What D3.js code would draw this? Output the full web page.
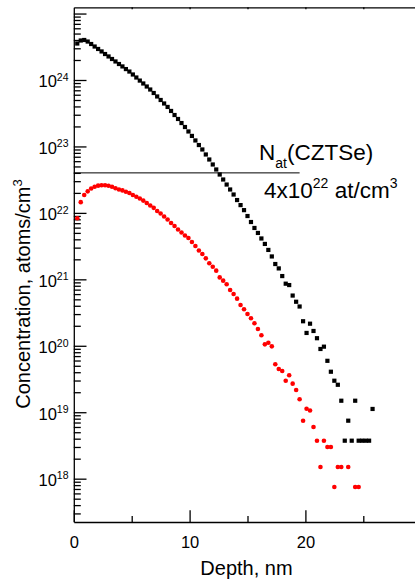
<!DOCTYPE html>
<html><head><meta charset="utf-8">
<script src="https://cdn.jsdelivr.net/npm/d3@7"></script>
<style>
body{margin:0;background:#fff}
svg{display:block}
text{font-family:"Liberation Sans",Arial,Helvetica,sans-serif;fill:#000}
</style>
</head><body>
<script>
// Depth (nm) of each sputter step
const depth = [0.3,0.6,0.9,1.2,1.5,1.8,2.1,2.4,2.7,3.0,3.3,3.6,3.9,4.2,4.5,4.8,5.1,5.4,5.7,6.0,
  6.3,6.6,6.9,7.2,7.5,7.8,8.1,8.4,8.7,9.0,9.3,9.6,9.9,10.2,10.5,10.8,11.1,11.4,11.7,12.0,
  12.3,12.6,12.9,13.2,13.5,13.8,14.1,14.4,14.7,15.0,15.3,15.6,15.9,16.2,16.5,16.8,17.1,17.4,17.7,18.0,
  18.3,18.6,18.9,19.2,19.5,19.8,20.1,20.4,20.7,21.0,21.3,21.6,21.9,22.2,22.5,22.8,23.1,23.4,23.7,24.0,
  24.3,24.6,24.9,25.2,25.5,25.8];

// Black squares (atoms/cm3)
const seriesBlack = [3.54e24,3.93e24,4.0e24,3.79e24,3.48e24,3.19e24,2.93e24,2.69e24,2.46e24,2.26e24,
  2.07e24,1.90e24,1.74e24,1.60e24,1.46e24,1.34e24,1.21e24,1.09e24,9.8e23,8.86e23,
  7.98e23,7.19e23,6.37e23,5.65e23,5.0e23,4.43e23,3.93e23,3.42e23,2.97e23,2.59e23,
  2.25e23,1.96e23,1.68e23,1.44e23,1.23e23,1.05e23,9.0e22,7.57e22,6.36e22,5.35e22,
  4.50e22,3.78e22,3.18e22,2.67e22,2.25e22,1.89e22,1.56e22,1.31e22,1.10e22,8.97e21,
  7.29e21,5.93e21,4.99e21,4.12e21,3.41e21,2.77e21,2.21e21,1.70e21,1.46e21,1.12e21,
  8.6e20,8.2e20,5.7e20,4.6e20,3.9e20,2.34e20,1.56e20,2.15e20,1.67e20,1.30e20,
  8.95e19,9.7e19,5.94e19,4.07e19,2.98e19,2.59e19,1.49e19,3.73e18,7.46e18,3.73e18,
  1.49e19,3.73e18,3.73e18,3.73e18,3.73e18,1.12e19];

// Red circles (atoms/cm3); null = no point shown
const seriesRed = [8.3e21,1.45e22,1.86e22,2.11e22,2.33e22,2.48e22,2.57e22,2.60e22,2.60e22,2.56e22,
  2.47e22,2.35e22,2.25e22,2.18e22,2.08e22,1.99e22,1.86e22,1.75e22,1.65e22,1.53e22,
  1.41e22,1.29e22,1.19e22,1.07e22,9.8e21,8.83e21,7.96e21,7.05e21,6.35e21,5.62e21,
  5.07e21,4.57e21,4.19e21,3.65e21,3.18e21,2.72e21,2.41e21,2.07e21,1.75e21,1.55e21,
  1.35e21,1.07e21,9.55e20,8.43e20,6.92e20,6.03e20,5.12e20,4.11e20,3.54e20,3.01e20,
  2.59e20,2.18e20,1.79e20,1.44e20,1.05e20,1.11e20,9.8e19,5.27e19,4.48e19,4.18e19,
  2.98e19,3.6e19,2.69e19,2.16e19,1.57e19,7.46e18,1.13e19,1.06e19,6.0e18,3.73e18,
  1.5e18,3.73e18,3.0e18,3.0e18,7.5e17,1.5e18,1.5e18,null,1.5e18,null,
  7.5e17,7.5e17];

const xMajorTicks = [0,10,20];
const xTickLabels = ["0","10","20"];
const xMinorTicks = [5,15,25];
const yMajorExponents = [18,19,20,21,22,23,24,25];
const yLabelExponents = ["18","19","20","21","22","23","24"];
const nAtValue = 4e22;
const nAtLineEnd = 19.5;

const W = 415, H = 580;
const svg = d3.select("body").append("svg").attr("width", W).attr("height", H);

const x = d3.scaleLinear().domain([0, 30]).range([73.8, 421.2]);
const y = d3.scaleLog().domain([Math.pow(10, 17.348), Math.pow(10, 25.094)]).range([522, 7.3]);

// minor y ticks
const yMinor = [];
for (let e = 17; e <= 25; e++) for (let m = 2; m <= 9; m++) {
  const v = m * Math.pow(10, e);
  if (v >= y.domain()[0] && v <= y.domain()[1]) yMinor.push(v);
}

// Left axis
const gl = svg.append("g").attr("transform", "translate(73.8,0)");
gl.call(d3.axisLeft(y).tickValues(yMajorExponents.map(e => Math.pow(10, e)))
  .tickSizeInner(-12.7).tickSizeOuter(0).tickFormat(""));
gl.append("g").call(d3.axisLeft(y).tickValues(yMinor).tickSizeInner(-7).tickSizeOuter(0).tickFormat(""))
  .select(".domain").remove();
gl.selectAll("path,line").attr("stroke", "#000").attr("stroke-width", 1.3);

// y labels
const yl = svg.append("g");
yLabelExponents.forEach(e => {
  const t = yl.append("text").attr("x", 68.5).attr("y", y(Math.pow(10, +e)) + 7.3)
    .attr("text-anchor", "end").attr("font-size", 16.5);
  t.append("tspan").text("10");
  t.append("tspan").attr("dy", -6.5).attr("font-size", 10.5).text(e);
});

// Bottom axis
const gb = svg.append("g").attr("transform", "translate(0,522)");
gb.call(d3.axisBottom(x).tickValues(xMajorTicks).tickSizeInner(-11.7).tickSizeOuter(0)
  .tickPadding(14).tickFormat((d, i) => xTickLabels[i]));
gb.append("g").call(d3.axisBottom(x).tickValues(xMinorTicks).tickSizeInner(-6).tickSizeOuter(0).tickFormat(""))
  .select(".domain").remove();
gb.selectAll("path,line").attr("stroke", "#000").attr("stroke-width", 1.3);
gb.selectAll("text").attr("font-size", 16.5).attr("font-family", "Liberation Sans,Arial,sans-serif").attr("fill", "#000");

// Top axis
const gt = svg.append("g").attr("transform", "translate(0,7.3)");
gt.call(d3.axisTop(x).tickValues([5,10,15,20,25]).tickSizeInner(-2).tickSizeOuter(0).tickFormat(""));
gt.selectAll("path,line").attr("stroke", "#000").attr("stroke-width", 1.3);

// Axis titles
svg.append("text").attr("x", 246.5).attr("y", 575).attr("text-anchor", "middle")
  .attr("font-size", 20).text("Depth, nm");
const yt = svg.append("text").attr("transform", "translate(30,294) rotate(-90)")
  .attr("text-anchor", "middle").attr("font-size", 20);
yt.append("tspan").text("Concentration, atoms/cm");
yt.append("tspan").attr("dy", -8).attr("font-size", 13).text("3");

// N_at reference line
svg.append("line").attr("x1", x(0)).attr("x2", x(nAtLineEnd))
  .attr("y1", y(nAtValue)).attr("y2", y(nAtValue)).attr("stroke", "#000").attr("stroke-width", 1);

// Data: red circles
const redPts = depth.map((d, i) => [d, seriesRed[i]]).filter(p => p[1] != null);
svg.append("g").selectAll("circle").data(redPts).join("circle")
  .attr("cx", d => x(d[0])).attr("cy", d => y(d[1])).attr("r", 2.3).attr("fill", "#ff0000");

// Data: black squares
const blkPts = depth.map((d, i) => [d, seriesBlack[i]]).filter(p => p[1] != null);
const s = 4.2;
svg.append("g").selectAll("rect").data(blkPts).join("rect")
  .attr("x", d => x(d[0]) - s / 2).attr("y", d => y(d[1]) - s / 2)
  .attr("width", s).attr("height", s).attr("fill", "#000");

// Annotation
const a1 = svg.append("text").attr("x", 259).attr("y", 160).attr("font-size", 22.5);
a1.append("tspan").text("N");
a1.append("tspan").attr("dy", 8).attr("font-size", 14).text("at");
a1.append("tspan").attr("dy", -8).text("(CZTSe)");
const a2 = svg.append("text").attr("x", 264).attr("y", 198.3).attr("font-size", 22.5);
a2.append("tspan").text("4x10");
a2.append("tspan").attr("dy", -10).attr("font-size", 14).text("22");
a2.append("tspan").attr("dy", 10).text(" at/cm");
a2.append("tspan").attr("dy", -10).attr("font-size", 14).text("3");
</script>
</body></html>
